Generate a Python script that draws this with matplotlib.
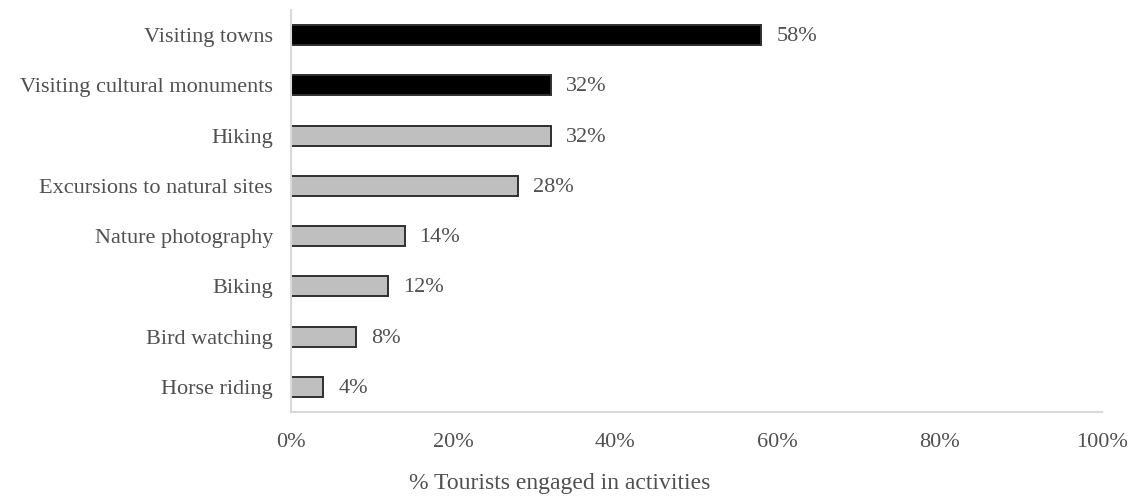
import matplotlib.pyplot as plt

# dados
atividades = ['Visiting towns', 'Visiting cultural monuments', 'Hiking',
              'Excursions to natural sites', 'Nature photography', 'Biking',
              'Bird watching', 'Horse riding']
percentagens = [58, 32, 32, 28, 14, 12, 8, 4]
cores = ['black', 'black', '#bfbfbf', '#bfbfbf', '#bfbfbf', '#bfbfbf', '#bfbfbf', '#bfbfbf']
ticks_x = [0, 20, 40, 60, 80, 100]

plt.rcParams['font.family'] = ['Liberation Serif', 'DejaVu Serif']
cor_texto = '#505050'

fig = plt.figure(figsize=(11.34, 4.98), dpi=100)
ax = fig.add_axes([291 / 1134, 1 - 412 / 498, (1102 - 291) / 1134, 402 / 498])

pos = list(range(len(atividades)))
ax.barh(pos, percentagens, height=0.4, color=cores, edgecolor='#303030', linewidth=1.4)
for p, v in zip(pos, percentagens):
    ax.text(v + 1.85, p + 0.03, f'{v}%', va='center', ha='left', fontsize=16, color=cor_texto)

ax.set_ylim(len(atividades) - 0.5, -0.5)
ax.set_xlim(0, 100)
ax.set_yticks(pos)
ax.set_yticklabels(atividades, fontsize=16, color=cor_texto)
ax.set_xticks(ticks_x)
ax.set_xticklabels([f'{t}%' for t in ticks_x], fontsize=16, color=cor_texto)
ax.tick_params(length=0)
ax.tick_params(axis='y', pad=13)
ax.tick_params(axis='x', pad=15)
# rótulo do eixo x fica deslocado para a esquerda no original
fig.text(560 / 1134, 1 - 483 / 498, '% Tourists engaged in activities',
         ha='center', va='center', fontsize=17, color=cor_texto)

for s in ['top', 'right']:
    ax.spines[s].set_visible(False)
for s in ['left', 'bottom']:
    ax.spines[s].set_color('#d9d9d9')
    ax.spines[s].set_linewidth(1.5)

plt.savefig('out.png', dpi=100)
